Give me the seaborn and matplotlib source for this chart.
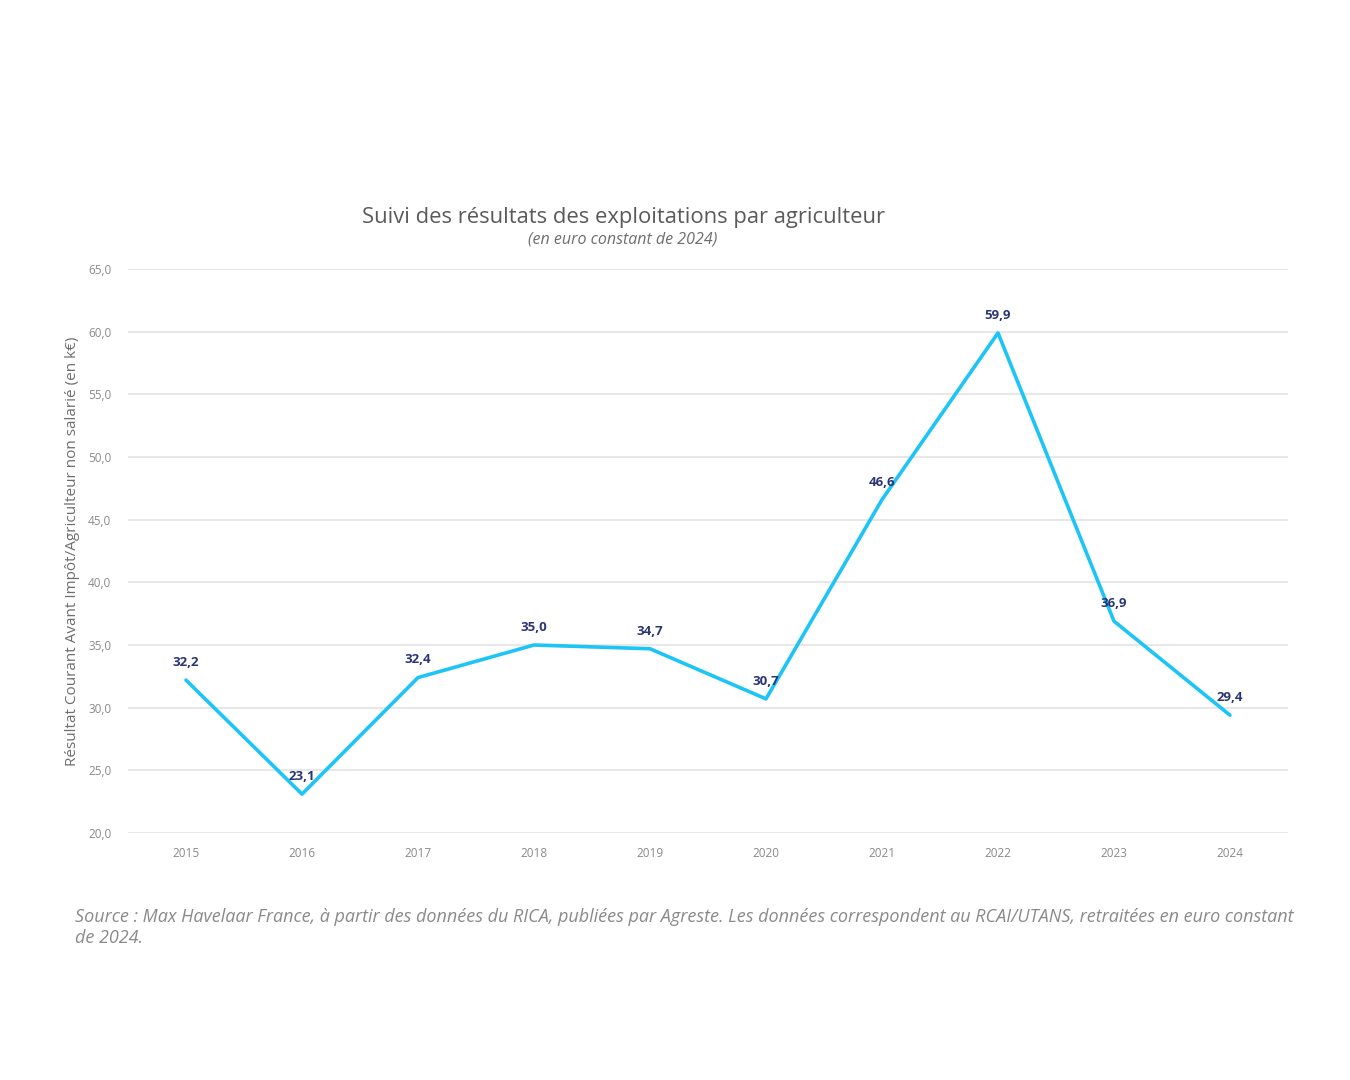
import matplotlib
matplotlib.use("Agg")
import matplotlib.pyplot as plt
import seaborn as sns
import pandas as pd
from matplotlib.ticker import FuncFormatter

years = ["2015", "2016", "2017", "2018", "2019", "2020", "2021", "2022", "2023", "2024"]
values = [32.2, 23.1, 32.4, 35.0, 34.7, 30.7, 46.6, 59.9, 36.9, 29.4]
yticks = [20, 25, 30, 35, 40, 45, 50, 55, 60, 65]

title = "Suivi des résultats des exploitations par agriculteur"
subtitle = "(en euro constant de 2024)"
ylabel = "Résultat Courant Avant Impôt/Agriculteur non salarié (en k€)"
source = ("Source : Max Havelaar France, à partir des données du RICA, publiées par Agreste. "
          "Les données correspondent au RCAI/UTANS, retraitées en euro constant\nde 2024.")

sns.set_theme(style="white")
plt.rcParams['font.family'] = ['Open Sans', 'DejaVu Sans']

df = pd.DataFrame({"year": years, "value": values})
df["x"] = range(len(years))

fig = plt.figure(figsize=(13.5, 10.8), dpi=100)
ax = fig.add_axes([128/1350, 1-833/1080, (1288-128)/1350, (833-269)/1080])

sns.lineplot(data=df, x="x", y="value", ax=ax, color="#1DC4F6", linewidth=2.6)

for xi, v in zip(df["x"], df["value"]):
    ax.annotate(f"{v:.1f}".replace(".", ","), (xi, v), xytext=(0, 8),
                textcoords="offset points", ha="center", va="bottom",
                fontsize=9.5, fontweight="bold", color="#2A3576")

ax.set_xlim(-0.5, 9.5)
ax.set_ylim(20, 65)
ax.set_yticks(yticks)
ax.yaxis.set_major_formatter(FuncFormatter(lambda v, p: f"{v:.1f}".replace(".", ",")))
ax.set_xticks(df["x"])
ax.set_xticklabels(years)
ax.tick_params(axis="both", labelsize=8.5, colors="#8a8a8a", length=0)
ax.tick_params(axis="x", pad=10)
ax.tick_params(axis="y", pad=12)
ax.grid(axis="y", color="#e3e3e3", linewidth=1.2)
ax.set_axisbelow(True)
for s in ax.spines.values():
    s.set_visible(False)
ax.set_xlabel("")
ax.set_ylabel(ylabel, fontsize=11, color="#6e6e6e", labelpad=6)

fig.text(623/1350, 1-218/1080, title, ha="center", va="center", fontsize=15.8, color="#5a5a5a")
fig.text(623/1350, 1-240/1080, subtitle, ha="center", va="center", fontsize=11.5, style="italic", color="#6e6e6e")
fig.text(75/1350, 1-908/1080, source, ha="left", va="top", fontsize=13, style="italic",
         color="#8a8a8a", linespacing=1.2)

fig.savefig("out.png", dpi=100, facecolor="white")
